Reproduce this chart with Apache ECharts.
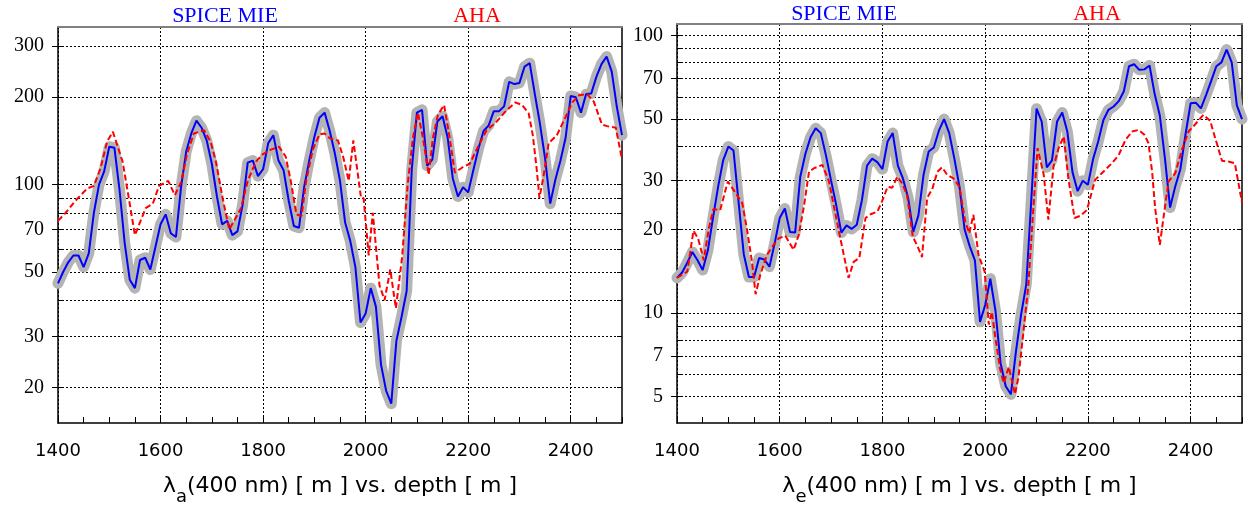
<!DOCTYPE html>
<html>
<head>
<meta charset="utf-8">
<script src="https://cdn.jsdelivr.net/npm/echarts@6/dist/echarts.min.js"></script>
<style>
html, body { margin: 0; padding: 0; background: #fff; }
#main { width: 1248px; height: 508px; }
</style>
</head>
<body>
<div id="main"></div>
<script>
// depth grid of the SPICE MIE fits (every 10 m)
var depths = [];
for (var d = 1400; d <= 2500; d += 10) depths.push(d);

var xTickLabels = [1400, 1600, 1800, 2000, 2200, 2400];
var xMinorTicks = [1400, 1450, 1500, 1550, 1600, 1650, 1700, 1750, 1800, 1850, 1900, 1950,
                   2000, 2050, 2100, 2150, 2200, 2250, 2300, 2350, 2400, 2450, 2500];

// left: lambda_a, right: lambda_e
var yLabelsA = [20, 30, 50, 70, 100, 200, 300];
var yGridA = [20, 30, 40, 50, 60, 70, 80, 90, 100, 200, 300];
var yLabelsE = [5, 7, 10, 20, 30, 50, 70, 100];
var yGridE = [5, 6, 7, 8, 9, 10, 20, 30, 40, 50, 60, 70, 80, 90, 100];

var spiceA = [
    45.7, 50, 54, 57, 57, 52, 58, 80, 100, 111,
    135, 134, 96, 63, 47, 44, 55, 56, 51, 61,
    73, 79, 68, 66, 98, 130, 150, 166, 157, 142,
    118, 91, 73, 75, 67, 69, 85, 119, 121, 107,
    113, 139, 148, 121, 112, 88, 72, 71, 98, 121,
    146, 170, 177, 153, 128, 103, 74, 64, 52, 33.5,
    36, 44, 38, 24, 19.5, 17.6, 29, 35, 43, 113,
    177, 181, 116, 122, 165, 172, 145, 105, 91, 98,
    94, 112, 133, 153, 160, 179, 179, 186, 226, 222,
    224, 255, 262, 205, 162, 123, 86, 104, 121, 145,
    202, 200, 177, 205, 206, 235, 260, 276, 245, 185,
    148
];

var ahaA = [
    [1400, 75], [1415, 80], [1434, 88], [1457, 97], [1470, 99], [1483, 114], [1496, 141],
    [1507, 152], [1526, 120], [1538, 90], [1550, 67], [1571, 83], [1585, 86], [1597, 99],
    [1615, 103], [1628, 92], [1640, 102], [1652, 128], [1665, 150], [1685, 154], [1698, 140],
    [1708, 120], [1721, 90], [1734, 70], [1747, 77], [1757, 83], [1770, 103], [1786, 120],
    [1799, 127], [1815, 132], [1831, 135], [1844, 125], [1854, 103], [1865, 79], [1875, 78],
    [1884, 103], [1897, 132], [1910, 149], [1920, 150], [1931, 144], [1946, 142], [1957, 123],
    [1967, 103], [1976, 142], [1991, 90], [1996, 90], [2006, 57], [2014, 80], [2027, 45],
    [2037, 40], [2048, 51], [2059, 37.5], [2071, 56], [2082, 100], [2092, 144], [2102, 177],
    [2112, 144], [2123, 108], [2131, 144], [2141, 174], [2153, 188], [2163, 148], [2174, 110],
    [2190, 115], [2203, 118], [2220, 136], [2236, 154], [2253, 163], [2272, 178], [2292, 192],
    [2305, 188], [2318, 176], [2326, 148], [2333, 116], [2339, 90], [2347, 107], [2357, 139],
    [2373, 148], [2390, 171], [2403, 192], [2416, 203], [2432, 205], [2445, 193], [2461, 161],
    [2471, 159], [2488, 157], [2500, 122]
];

var spiceE = [
    13.4, 14.0, 15.2, 16.6, 15.5, 14.3, 16.8, 22, 28.5, 35.6,
    39.8, 38.5, 25, 16.3, 13.5, 13.5, 15.8, 15.6, 14.7, 17.8,
    22, 23.8, 19.6, 19.5, 31, 37.5, 43, 46.3, 44.5, 37,
    30, 24.5, 19.5, 20.7, 20.1, 20.8, 25.5, 34, 36, 35,
    33, 41.5, 44.5, 34, 30.5, 26, 19.6, 22.5, 31.5, 38.2,
    39.5, 45.5, 50, 44.5, 36, 28.5, 20, 17.4, 15.5, 9.3,
    10.7, 13.3, 10.2, 6.6, 5.45, 5.1, 7.3, 9.9, 12.7, 26,
    54.5, 49, 33.5, 35.5, 49, 52.8, 45, 32.2, 27.5, 30,
    29, 35.8, 41.5, 49.5, 54, 55.5, 58, 63, 77.5, 78.8,
    75.2, 75.5, 78, 61.5, 51.5, 36, 24, 28.6, 33, 44,
    57, 57.3, 54.6, 61, 68.6, 77.5, 80, 89, 80, 56,
    50
];

var ahaE = [
    [1400, 13.4], [1420, 14.1], [1432, 19.8], [1441, 18.6], [1452, 15.5], [1462, 20.2],
    [1471, 23.7], [1484, 23.5], [1499, 29.8], [1510, 27.8], [1527, 24.9], [1536, 20.2],
    [1546, 15.3], [1553, 11.7], [1562, 13.7], [1575, 16.2], [1585, 17.3], [1598, 18.6],
    [1611, 19], [1627, 16.9], [1637, 19.1], [1647, 24.2], [1657, 32.3], [1666, 33.2],
    [1683, 34.2], [1696, 29.8], [1705, 24.5], [1718, 18.6], [1734, 13.4], [1744, 15.3],
    [1755, 15.8], [1767, 22], [1777, 22.7], [1790, 23.2], [1799, 25.2], [1810, 28.5],
    [1819, 28.3], [1829, 31], [1838, 29.4], [1848, 26.6], [1859, 18.9], [1870, 17.1],
    [1877, 15.9], [1887, 26], [1897, 28], [1907, 32.3], [1916, 33.5], [1926, 31.5],
    [1938, 30.6], [1950, 28.5], [1961, 21.4], [1969, 19.4], [1977, 22.6], [1987, 16.2],
    [1999, 14.1], [2007, 9.1], [2013, 10.1], [2021, 7.9], [2029, 6.3], [2036, 5.6],
    [2046, 6.4], [2058, 5.1], [2065, 5.9], [2075, 8.75], [2084, 12.6], [2094, 24.2],
    [2102, 39.3], [2114, 31.5], [2123, 21.7], [2133, 33.7], [2143, 39.3], [2153, 43.3],
    [2162, 30.5], [2174, 22], [2185, 22.4], [2198, 23.5], [2214, 30.2], [2227, 31.9],
    [2247, 34.7], [2260, 37.1], [2273, 42], [2286, 45.1], [2299, 45.7], [2310, 43.9],
    [2318, 40.9], [2325, 32.3], [2331, 23.8], [2340, 17.6], [2347, 22], [2357, 29.8],
    [2370, 31.9], [2383, 38.7], [2396, 45.1], [2409, 47.9], [2425, 51.8], [2438, 49.3],
    [2448, 42.6], [2461, 35.4], [2475, 35.1], [2486, 34.7], [2500, 25]
];

// the y axes are log10 of the value
function lg(v) { return Math.log10(v); }
function onGrid(vals) {
    var out = [];
    for (var i = 0; i < vals.length; i++) out.push([depths[i], lg(vals[i])]);
    return out;
}
function pairs(list) {
    return list.map(function(p) { return [p[0], lg(p[1])]; });
}

var sans = 'DejaVu Sans';
var serif = 'Liberation Serif';

var xAxes = [];
var yAxes = [];
var series = [];

function addPanel(gi, sub, ymin, ymax, labels, gridVals, spice, aha) {
    var xi = xAxes.length;
    var yi = yAxes.length;
    xAxes.push({
        type: 'value', gridIndex: gi, position: 'bottom', min: 1400, max: 2500,
        axisLine: { lineStyle: { color: '#000', width: 1.5 } },
        axisTick: { inside: true, length: 6, customValues: xMinorTicks, lineStyle: { color: '#000' } },
        axisLabel: {
            customValues: xTickLabels, margin: 19, color: '#000', fontFamily: sans, fontSize: 18,
            formatter: function(v) { return String(v); }
        },
        splitLine: { show: false },
        name: '{m|λ}{s|' + sub + '}{m|(400 nm) [ m ] vs. depth [ m ]}',
        nameLocation: 'middle',
        nameGap: 52,
        nameTextStyle: {
            rich: {
                m: { fontFamily: sans, fontSize: 22, color: '#000', lineHeight: 24, verticalAlign: 'top' },
                s: { fontFamily: sans, fontSize: 18, color: '#000', lineHeight: 31, verticalAlign: 'bottom' }
            }
        }
    });
    xAxes.push({
        type: 'value', gridIndex: gi, position: 'top', min: 1400, max: 2500,
        axisLine: { lineStyle: { color: '#808080', width: 2 } },
        axisTick: { show: false, customValues: xTickLabels },
        axisLabel: { show: false },
        splitLine: { show: true, lineStyle: { color: '#000', width: 1, type: [2, 2] } }
    });
    var ymn = lg(ymin), ymx = lg(ymax);
    yAxes.push({
        type: 'value', gridIndex: gi, position: 'left', min: ymn, max: ymx,
        axisLine: { show: true, lineStyle: { color: '#000', width: 1.5 } },
        axisTick: { show: true, length: 6, customValues: labels.map(lg), lineStyle: { color: '#000' } },
        axisLabel: {
            customValues: labels.map(lg), margin: 14, color: '#000', fontFamily: serif, fontSize: 20,
            formatter: function(v) { return String(Math.round(Math.pow(10, v))); }
        },
        splitLine: { show: false }
    });
    yAxes.push({
        type: 'value', gridIndex: gi, position: 'left', min: ymn, max: ymx,
        axisLine: { show: false },
        axisTick: { show: true, inside: true, length: 5, customValues: gridVals.map(lg), lineStyle: { color: '#000' } },
        axisLabel: { show: false },
        splitLine: { show: true, lineStyle: { color: '#000', width: 1, type: [2, 2] } }
    });
    yAxes.push({
        type: 'value', gridIndex: gi, position: 'right', min: ymn, max: ymx,
        axisLine: { show: true, lineStyle: { color: '#000', width: 1.5 } },
        axisTick: { show: true, inside: true, length: 5, customValues: gridVals.map(lg), lineStyle: { color: '#000' } },
        axisLabel: { show: false },
        splitLine: { show: false }
    });

    var base = { type: 'line', xAxisIndex: xi, yAxisIndex: yi, showSymbol: false, silent: true };
    series.push(Object.assign({}, base, {
        name: 'band', data: onGrid(spice), z: 2,
        lineStyle: { color: '#b4b4b4', width: 11, join: 'round', cap: 'round' }
    }));
    series.push(Object.assign({}, base, {
        name: 'SPICE MIE', data: onGrid(spice), z: 3,
        lineStyle: { color: '#0000ff', width: 2 }
    }));
    series.push(Object.assign({}, base, {
        name: 'AHA', data: pairs(aha), z: 4,
        lineStyle: { color: '#ff0000', width: 2, type: [6, 3] }
    }));
}

addPanel(0, 'a', 15.1, 349, yLabelsA, yGridA, spiceA, ahaA);
addPanel(1, 'e', 4.02, 110, yLabelsE, yGridE, spiceE, ahaE);

function titleText(x, y, text, color) {
    return {
        type: 'text', x: x, y: y,
        style: { text: text, fill: color, font: '22px "Liberation Serif"', align: 'center', verticalAlign: 'middle' }
    };
}

var myChart = echarts.init(document.getElementById('main'));
var option = {
    animation: false,
    backgroundColor: '#fff',
    grid: [
        { left: 58, top: 27, width: 564, height: 396, outerBoundsMode: 'none' },
        { left: 677, top: 24, width: 565, height: 399, outerBoundsMode: 'none' }
    ],
    xAxis: xAxes,
    yAxis: yAxes,
    series: series,
    graphic: [
        titleText(225, 16, 'SPICE MIE', '#0000ff'),
        titleText(477, 16, 'AHA', '#ff0000'),
        titleText(844, 14.5, 'SPICE MIE', '#0000ff'),
        titleText(1097, 14.5, 'AHA', '#ff0000')
    ]
};
myChart.setOption(option);
</script>
</body>
</html>
